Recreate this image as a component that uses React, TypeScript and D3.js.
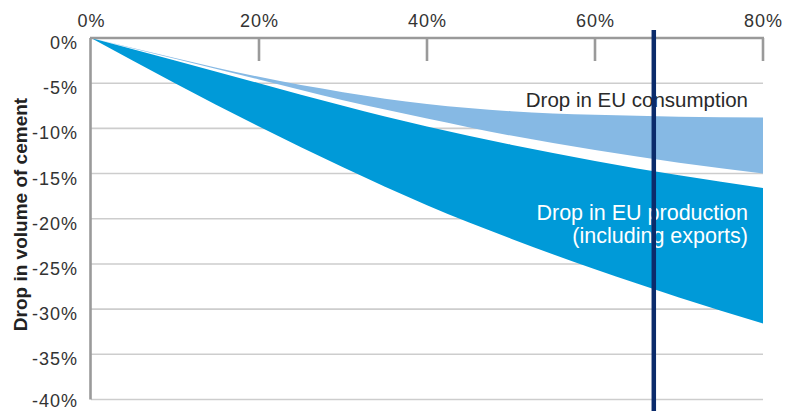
import React from "react";
import * as d3 from "d3";

const xValues = [0, 10, 20, 30, 40, 50, 60, 70, 80];
const consumptionUpper = [0, -2.2, -4.3, -6.0, -7.3, -8.1, -8.5, -8.7, -8.8];
const consumptionLower = [0, -2.3, -4.6, -6.9, -8.9, -10.8, -12.4, -13.8, -15.0];
const productionUpper = [0, -2.5, -5.0, -7.5, -9.8, -11.8, -13.6, -15.2, -16.6];
const productionLower = [0, -5.0, -9.8, -14.3, -18.5, -22.2, -25.6, -28.7, -31.6];
const xTicks = [0, 20, 40, 60, 80];
const yTicks = [0, -5, -10, -15, -20, -25, -30, -35, -40];
const markerX = 67;
const yTitle = "Drop in volume of cement";
const consumptionLabel = "Drop in EU consumption";
const productionLabel = ["Drop in EU production", "(including exports)"];

const W = 785;
const H = 411;
const FONT = "'Liberation Sans', Arial, Helvetica, sans-serif";

export default function App() {
  const x = d3.scaleLinear().domain([0, 80]).range([91, 763]);
  const y = d3.scaleLinear().domain([0, -40]).range([38, 399.5]);

  const band = (upper: number[], lower: number[]) =>
    d3
      .area<number>()
      .x((_, i) => x(xValues[i]))
      .y0((_, i) => y(lower[i]))
      .y1((_, i) => y(upper[i]))
      .curve(d3.curveMonotoneX)(xValues) as string;

  const axisGray = "#9a9a9a";
  const gridGray = "#cdcdcd";

  return (
    <svg
      width={W}
      height={H}
      viewBox={`0 0 ${W} ${H}`}
      style={{ position: "absolute", left: 0, top: 0, background: "#fff" }}
    >
      {/* gridlines */}
      {yTicks
        .filter((t) => t !== 0)
        .map((t) => (
          <line
            key={`g${t}`}
            x1={x(0)}
            x2={x(80)}
            y1={y(t)}
            y2={y(t)}
            stroke={gridGray}
            strokeWidth={1.6}
          />
        ))}

      {/* bands */}
      <path d={band(consumptionUpper, consumptionLower)} fill="#86b9e4" />
      <path d={band(productionUpper, productionLower)} fill="#009ad8" />

      {/* axes */}
      <line x1={x(0) - 1} x2={x(80) + 1} y1={y(0)} y2={y(0)} stroke={axisGray} strokeWidth={2.6} />
      <line x1={x(0) - 0.5} x2={x(0) - 0.5} y1={y(0)} y2={y(-40)} stroke={axisGray} strokeWidth={2.6} />
      {xTicks
        .filter((t) => t !== 0)
        .map((t) => (
          <line
            key={`t${t}`}
            x1={x(t)}
            x2={x(t)}
            y1={y(0)}
            y2={y(0) + 23}
            stroke={axisGray}
            strokeWidth={2.6}
          />
        ))}

      {/* x tick labels */}
      {xTicks.map((t) => (
        <text
          key={`xl${t}`}
          x={x(t) + 0.5}
          y={27}
          textAnchor="middle"
          fontFamily={FONT}
          fontSize={18}
          fill="#333"
          letterSpacing={1}
        >
          {`${t}%`}
        </text>
      ))}

      {/* y tick labels */}
      {yTicks.map((t) => (
        <text
          key={`yl${t}`}
          x={78}
          y={Math.min(y(t) + 11, H - 4.5)}
          textAnchor="end"
          fontFamily={FONT}
          fontSize={18}
          fill="#333"
          letterSpacing={1}
        >
          {`${t}%`}
        </text>
      ))}

      {/* y title */}
      <text
        transform={`translate(27, ${(96 + 333) / 2}) rotate(-90)`}
        textAnchor="middle"
        fontFamily={FONT}
        fontWeight="bold"
        fontSize={19}
        fill="#222"
      >
        {yTitle}
      </text>

      {/* annotations */}
      <text
        x={748}
        y={107}
        textAnchor="end"
        fontFamily={FONT}
        fontSize={20.5}
        fill="#2a2a2a"
      >
        {consumptionLabel}
      </text>
      {productionLabel.map((s, i) => (
        <text
          key={s}
          x={748}
          y={220 + i * 22.5}
          textAnchor="end"
          fontFamily={FONT}
          fontSize={21.5}
          fill="#fff"
        >
          {s}
        </text>
      ))}

      {/* marker line */}
      <line
        x1={x(markerX)}
        x2={x(markerX)}
        y1={30}
        y2={H}
        stroke="#0b2b6b"
        strokeWidth={4.5}
      />
    </svg>
  );
}
